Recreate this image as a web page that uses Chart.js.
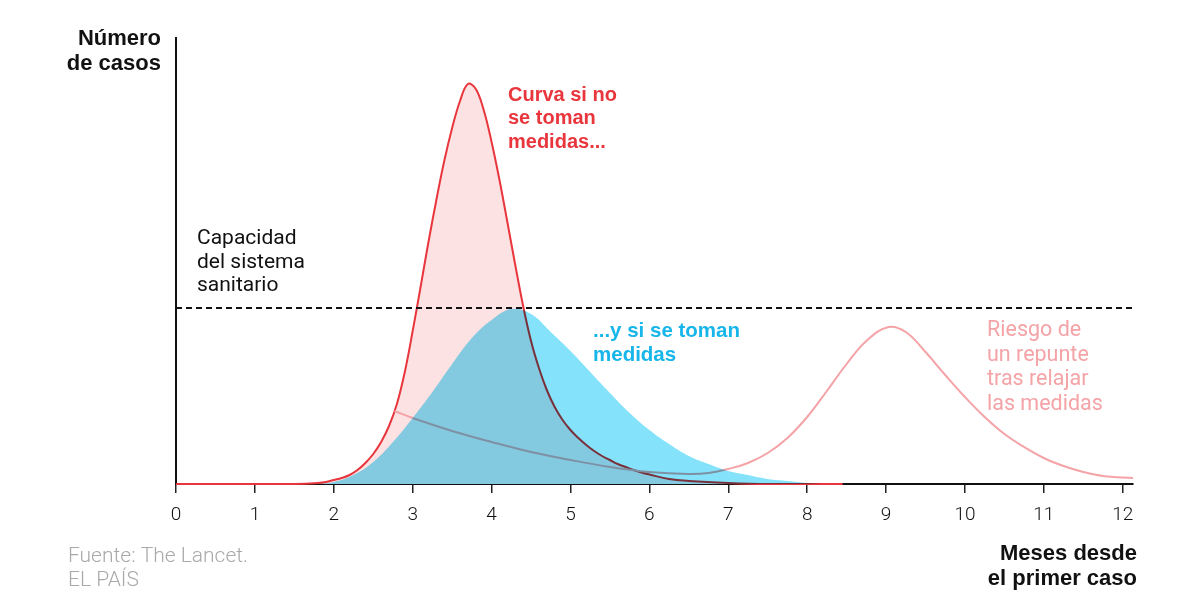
<!DOCTYPE html>
<html>
<head>
<meta charset="utf-8">
<script src="https://cdn.jsdelivr.net/npm/chart.js@4.4.1/dist/chart.umd.min.js"></script>
<style>
  html, body { margin: 0; padding: 0; background: #fff; }
  #wrap { width: 1200px; height: 600px; position: relative; }
</style>
</head>
<body>
<div id="wrap"><canvas id="curveChart" width="1200" height="600"></canvas></div>
<script>
// months since first case / relative number of cases
const xTicks = [0, 1, 2, 3, 4, 5, 6, 7, 8, 9, 10, 11, 12];
const capacity = 176;

const redMonths = [0, 1, 1.5, 1.8, 1.9, 2, 2.1, 2.2, 2.3, 2.4, 2.5, 2.6, 2.7, 2.8, 2.9, 3, 3.1, 3.2, 3.3, 3.4, 3.5, 3.6, 3.7, 3.8, 3.9, 4, 4.1, 4.2, 4.3, 4.4, 4.5, 4.6, 4.7, 4.8, 4.9, 5, 5.1, 5.2, 5.3, 5.4, 5.5, 5.6, 5.7, 5.8, 5.9, 6, 6.25, 6.5, 7, 7.5, 8.45];
const redCases = [0, 0, 0, 1, 2, 4, 6, 9, 14, 21, 30, 42, 58, 80, 112, 153, 197, 242, 284, 323, 356, 383, 400, 395, 374, 342, 304, 262, 219, 178, 143, 116, 94, 77, 64, 54, 46, 39, 33, 28, 24, 20, 17, 14, 11.5, 9.5, 5, 3, 1, 0, 0];

const blueMonths = [1.8, 2, 2.25, 2.5, 2.75, 3, 3.25, 3.5, 3.75, 4, 4.25, 4.5, 4.75, 5, 5.25, 5.5, 5.75, 6, 6.25, 6.5, 6.75, 7, 7.25, 7.5, 7.75, 8, 8.2];
const blueCases = [0, 2, 9, 22, 42, 66, 92, 120, 146, 164, 175, 170, 152, 133, 112, 91, 71, 54, 40, 28, 20, 13, 9, 5, 3, 1, 0];

const pinkMonths = [2.77, 3, 3.5, 4, 4.5, 5, 5.5, 6, 6.5, 6.75, 7, 7.25, 7.5, 7.75, 8, 8.25, 8.5, 8.75, 9.03, 9.25, 9.5, 9.75, 10, 10.25, 10.5, 10.75, 11, 11.25, 11.5, 11.75, 12.13];
const pinkCases = [73, 66, 53, 42, 32, 24, 17, 12, 10, 11, 15, 21, 31, 46, 67, 93, 120, 143, 157, 152, 132, 109, 87, 67, 50, 37, 26, 18, 12, 8, 6];

function pts(xs, ys) {
    return xs.map((x, i) => ({ x: x, y: ys[i] }));
}

const RED = '#e8363c';
const BLUE = '#84e3fa';
const PINK = '#f4a3a7';

// blue area is multiplied over what is under it (red fill, red and pink lines)
const multiplyBlue = {
    id: 'multiplyBlue',
    afterDatasetDraw(chart, args) {
        if (args.index === 1) chart.ctx.globalCompositeOperation = 'multiply';
        if (args.index === 0) chart.ctx.globalCompositeOperation = 'source-over';
    }
};

const annotations = {
    id: 'annotations',
    afterDraw(chart) {
        const ctx = chart.ctx;
        const area = chart.chartArea;
        const yCap = chart.scales.y.getPixelForValue(capacity);
        ctx.save();
        ctx.globalCompositeOperation = 'source-over';
        // capacity line
        ctx.strokeStyle = '#111';
        ctx.lineWidth = 2;
        ctx.setLineDash([6, 4]);
        ctx.beginPath();
        ctx.moveTo(area.left, Math.round(yCap));
        ctx.lineTo(area.right, Math.round(yCap));
        ctx.stroke();
        ctx.setLineDash([]);

        ctx.textBaseline = 'middle';
        const lines = (arr, x, y0, dy) => arr.forEach((t, i) => ctx.fillText(t, x, y0 + i * dy));

        ctx.textAlign = 'right';
        ctx.fillStyle = '#111';
        ctx.font = 'bold 22px "Liberation Sans", Arial, sans-serif';
        lines(['Número', 'de casos'], 161, 39, 25);
        lines(['Meses desde', 'el primer caso'], 1137, 554, 25);

        ctx.textAlign = 'left';
        ctx.font = '21px Roboto, sans-serif';
        lines(['Capacidad', 'del sistema', 'sanitario'], 197, 239, 23.5);

        ctx.fillStyle = RED;
        ctx.font = 'bold 20px "Liberation Sans", Arial, sans-serif';
        lines(['Curva si no', 'se toman', 'medidas...'], 508, 95, 23.5);

        ctx.fillStyle = '#17b6ea';
        ctx.font = 'bold 20.5px "Liberation Sans", Arial, sans-serif';
        lines(['...y si se toman', 'medidas'], 593, 331, 24);

        ctx.fillStyle = PINK;
        ctx.font = '21.5px Roboto, sans-serif';
        lines(['Riesgo de', 'un repunte', 'tras relajar', 'las medidas'], 987, 331, 24.5);

        ctx.fillStyle = '#a9a9a9';
        ctx.font = '300 21px Roboto, sans-serif';
        lines(['Fuente: The Lancet.', 'EL PAÍS'], 68, 557, 24);
        ctx.restore();
    }
};

new Chart(document.getElementById('curveChart'), {
    type: 'line',
    data: {
        datasets: [
            {
                label: '...y si se toman medidas',
                data: pts(blueMonths, blueCases),
                borderWidth: 0,
                borderColor: 'rgba(0,0,0,0)',
                backgroundColor: BLUE,
                fill: 'origin',
                pointRadius: 0,
                tension: 0.4
            },
            {
                label: 'Riesgo de un repunte',
                data: pts(pinkMonths, pinkCases),
                borderWidth: 2,
                borderColor: PINK,
                fill: false,
                pointRadius: 0,
                tension: 0.4
            },
            {
                label: 'Curva si no se toman medidas',
                data: pts(redMonths, redCases),
                borderWidth: 2,
                borderColor: RED,
                backgroundColor: '#fde2e4',
                fill: 'origin',
                pointRadius: 0,
                clip: 4,
                tension: 0.4
            }
        ]
    },
    options: {
        responsive: false,
        animation: false,
        layout: {
            padding: { top: 38, left: 176, right: 67, bottom: 0 }
        },
        plugins: {
            legend: { display: false },
            tooltip: { enabled: false }
        },
        scales: {
            x: {
                type: 'linear',
                min: 0,
                max: 12.13,
                afterBuildTicks: (scale) => {
                    scale.ticks = xTicks.map(v => ({ value: v }));
                },
                afterFit: (scale) => { scale.height = 116; },
                border: { display: true, color: '#111', width: 2 },
                grid: {
                    drawOnChartArea: false,
                    drawTicks: true,
                    tickLength: 9,
                    color: '#222',
                    lineWidth: 1.5
                },
                ticks: {
                    color: '#111',
                    padding: 11,
                    maxRotation: 0,
                    autoSkip: false,
                    font: { family: 'Roboto', size: 19, weight: '300' }
                }
            },
            y: {
                min: 0,
                max: 446,
                afterFit: (scale) => { scale.width = 0; },
                border: { display: true, color: '#111', width: 2 },
                grid: { drawOnChartArea: false, drawTicks: false },
                ticks: { display: false }
            }
        }
    },
    plugins: [multiplyBlue, annotations]
});
</script>
</body>
</html>
